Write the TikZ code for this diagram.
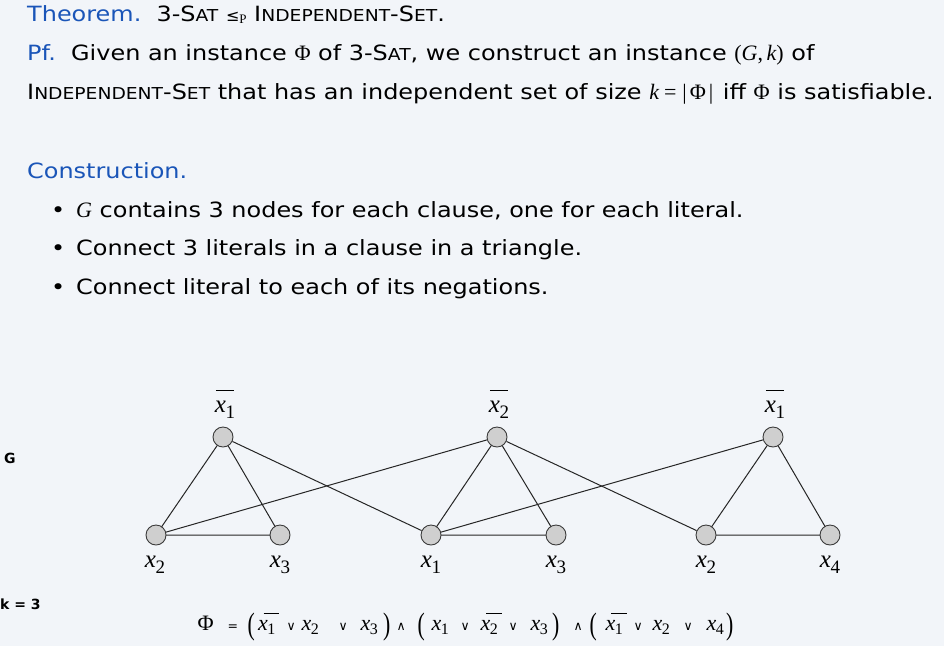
\documentclass[tikz,border=0pt]{standalone}
\usepackage{fontspec}
\usepackage{graphicx}
\usetikzlibrary{backgrounds}
\setmainfont{DejaVu Sans}[FakeStretch=1.14]
\newfontfamily\tms{Liberation Serif}
\newfontfamily\dvs{DejaVu Sans}
\definecolor{bg}{HTML}{F2F5F9}
\definecolor{ttl}{HTML}{1A55B8}
\definecolor{nodefill}{HTML}{CFCFCF}
\definecolor{nodeline}{HTML}{3A3A3A}
\newcommand\smcap[1]{{\fontsize{16.4}{16}\selectfont #1}}
\newcommand\tm[1]{{\tms\fontsize{22}{24}\selectfont #1}}
\newcommand\tmi[1]{{\tms\fontsize{22}{24}\selectfont\itshape #1}}
% graph literals
\newcommand\glit[1]{{\tms\fontsize{25}{25}\selectfont\itshape x}\kern-0.5pt\raisebox{-6pt}{\tms\fontsize{19}{19}\selectfont #1}}
\newcommand\gbar[1]{\rlap{\kern1pt\raisebox{21pt}{\rule{18pt}{0.9pt}}}\glit{#1}}
% formula literals
\newcommand\flit[1]{{\tms\fontsize{22}{22}\selectfont\itshape x}\kern-0.5pt\raisebox{-4.5pt}{\tms\fontsize{16}{16}\selectfont #1}}
\newcommand\fbar[1]{\rlap{\kern5.5pt\raisebox{16pt}{\rule{15.5pt}{0.8pt}}}\flit{#1}}
\newcommand\fat[2]{\makebox[0pt][l]{\hspace*{\dimexpr#1pt-197pt\relax}#2}}
\newcommand\fop[1]{{\dvs\fontsize{12.5}{12}\selectfont #1}}
\newcommand\fpl{\raisebox{-4pt}{\scalebox{0.7}[1]{\tms\fontsize{31}{31}\selectfont (}}}
\newcommand\fpr{\raisebox{-4pt}{\scalebox{0.7}[1]{\tms\fontsize{31}{31}\selectfont )}}}
\tikzset{
  vert/.style={circle,draw=nodeline,fill=nodefill,line width=0.9pt,minimum size=20pt,inner sep=0pt},
  edge/.style={line width=1pt,black!85},
  txt/.style={anchor=base west,inner sep=0pt,font=\fontsize{21}{24}\selectfont},
  lbl/.style={anchor=base,inner sep=0pt},
  side/.style={anchor=base west,inner sep=0pt,font=\dvs\fontsize{14}{14}\selectfont\bfseries}
}
\begin{document}
\begin{tikzpicture}[x=1pt,y=-1pt]
\useasboundingbox (0,0) rectangle (944,646);
% text
\node[txt] (t1) at (27,21) {\textcolor{ttl}{Theorem.}\ \ 3-S\smcap{AT} {\dvs\fontsize{16}{16}\selectfont ≤}\raisebox{-2.5pt}{\tms\fontsize{13}{13}\selectfont P} I\smcap{NDEPENDENT}-S\smcap{ET}.};
\node[txt] (t2) at (27,60) {\textcolor{ttl}{Pf.}\ \ Given an instance \tm{Φ} of 3-S\smcap{AT}, we construct an instance \tm{(}\tmi{G}\tm{,\,}\tmi{k}\tm{)} of};
\node[txt] (t3) at (27,99) {I\smcap{NDEPENDENT}-S\smcap{ET} that has an independent set of size \tmi{k}\hspace{5pt}\tm{=}\hspace{6pt}\tm{|}\hspace{3pt}\tm{Φ}\hspace{3pt}\tm{|}\hspace{2pt} iff \tm{Φ} is satisfiable.};
\node[txt] (t4) at (27,178) {\textcolor{ttl}{Construction.}};
\node[txt] (b1) at (51,217) {•};
\node[txt] (l1) at (76,217) {\tmi{G} contains 3 nodes for each clause, one for each literal.};
\node[txt] (b2) at (51,255) {•};
\node[txt] (l2) at (76,255) {Connect 3 literals in a clause in a triangle.};
\node[txt] (b3) at (51,294) {•};
\node[txt] (l3) at (76,294) {Connect literal to each of its negations.};
% side labels
\node[side] (g) at (4,463) {G};
\node[side] (k) at (0,609) {k = 3};
% vertices
\node[vert] (a1) at (223,437) {};
\node[vert] (a2) at (156,535) {};
\node[vert] (a3) at (280,535) {};
\node[vert] (b1v) at (497,437) {};
\node[vert] (b2v) at (431,535) {};
\node[vert] (b3v) at (556,535) {};
\node[vert] (c1) at (773,437) {};
\node[vert] (c2) at (706,535) {};
\node[vert] (c3) at (830,535) {};
% labels
\node[lbl] (la1) at (225,412) {\gbar{1}};
\node[lbl] (lb1) at (499,412) {\gbar{2}};
\node[lbl] (lc1) at (775,412) {\gbar{1}};
\node[lbl] (la2) at (155,567) {\glit{2}};
\node[lbl] (la3) at (280,567) {\glit{3}};
\node[lbl] (lb2) at (431,567) {\glit{1}};
\node[lbl] (lb3) at (556,567) {\glit{3}};
\node[lbl] (lc2) at (706,567) {\glit{2}};
\node[lbl] (lc3) at (830,567) {\glit{4}};
% edges
\begin{scope}[on background layer]
\fill[bg] (0,0) rectangle (944,646);
\draw[edge] (a1.center) -- (a2.center) -- (a3.center) -- cycle;
\draw[edge] (b1v.center) -- (b2v.center) -- (b3v.center) -- cycle;
\draw[edge] (c1.center) -- (c2.center) -- (c3.center) -- cycle;
\draw[edge] (a1) -- (b2v);
\draw[edge] (a2) -- (b1v);
\draw[edge] (b1v) -- (c2);
\draw[edge] (b2v) -- (c1);
\end{scope}
% formula
\node[anchor=base west,inner sep=0pt] (phi) at (197,630)
 {\fat{197}{\tm{Φ}}\fat{227}{\fop{=}}\fat{247}{\fpl}\fat{257.5}{\fbar{1}}\fat{286}{\fop{∨}}\fat{301}{\flit{2}}%
  \fat{338}{\fop{∨}}\fat{360}{\flit{3}}\fat{382.5}{\fpr}\fat{396}{\fop{∧}}\fat{417}{\fpl}\fat{431}{\flit{1}}%
  \fat{460}{\fop{∨}}\fat{480}{\fbar{2}}\fat{508}{\fop{∨}}\fat{530}{\flit{3}}\fat{551.5}{\fpr}\fat{573}{\fop{∧}}%
  \fat{589}{\fpl}\fat{605}{\fbar{1}}\fat{633}{\fop{∨}}\fat{652}{\flit{2}}\fat{683}{\fop{∨}}\fat{706}{\flit{4}}\fat{725.5}{\fpr}};
\end{tikzpicture}
\end{document}
